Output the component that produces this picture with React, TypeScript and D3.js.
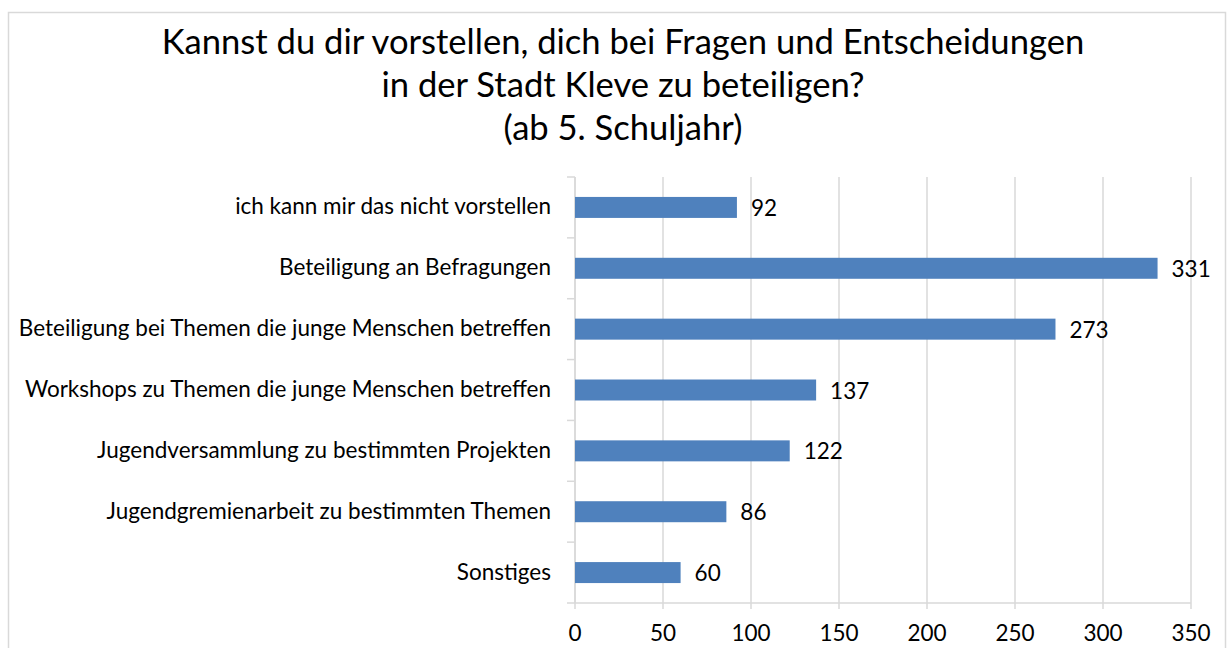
import React from "react";
import * as d3 from "d3";

const titleLines = [
  "Kannst du dir vorstellen, dich bei Fragen und Entscheidungen",
  "in der Stadt Kleve zu beteiligen?",
  "(ab 5. Schuljahr)",
];
const categories = [
  "ich kann mir das nicht vorstellen",
  "Beteiligung an Befragungen",
  "Beteiligung bei Themen die junge Menschen betreffen",
  "Workshops zu Themen die junge Menschen betreffen",
  "Jugendversammlung zu bestimmten Projekten",
  "Jugendgremienarbeit zu bestimmten Themen",
  "Sonstiges",
];
const values = [92, 331, 273, 137, 122, 86, 60];
const xTicks = [0, 50, 100, 150, 200, 250, 300, 350];

const W = 1228;
const H = 648;
const FONT = "Lato, 'Open Sans', sans-serif";

export default function App() {
  const left = 575;
  const right = 1191;
  const top = 177;
  const bottom = 603;
  const x = d3.scaleLinear().domain([0, 350]).range([left, right]);
  const y = d3.scaleBand<string>().domain(categories).range([top, bottom]).paddingInner(0).paddingOuter(0);
  const bw = y.bandwidth();
  const barH = bw / 2.9;
  const grid = "#d9d9d9";
  const boundaries = d3.range(categories.length + 1).map((i) => top + i * bw);
  const fs = 22.5;

  return (
    <svg width={W} height={H} style={{ position: "absolute", left: 0, top: 0, background: "#fff" }}>
      <rect x={0} y={0} width={W} height={H} fill="#fff" />
      <rect x={8.5} y={12.5} width={1217} height={H} fill="none" stroke={grid} strokeWidth={1.5} />
      {titleLines.map((t, i) => (
        <text key={i} x={623} y={54 + i * 43} textAnchor="middle" fontFamily={FONT} fontSize={34.6} fill="#000">
          {t}
        </text>
      ))}
      {xTicks.map((t) => (
        <line key={"g" + t} x1={x(t)} x2={x(t)} y1={top} y2={bottom} stroke={grid} strokeWidth={1.5} />
      ))}
      {xTicks.map((t) => (
        <line key={"tk" + t} x1={x(t)} x2={x(t)} y1={bottom} y2={bottom + 6} stroke={grid} strokeWidth={1.5} />
      ))}
      {boundaries.map((b, i) => (
        <line key={"yt" + i} x1={left - 8} x2={left} y1={b} y2={b} stroke={grid} strokeWidth={1.5} />
      ))}
      <line x1={left} x2={left} y1={top} y2={bottom} stroke={grid} strokeWidth={1.5} />
      <line x1={left} x2={right} y1={bottom} y2={bottom} stroke={grid} strokeWidth={1.5} />
      {categories.map((c, i) => {
        const cy = (y(c) as number) + bw / 2;
        return (
          <g key={c}>
            <rect x={x(0)} y={cy - barH / 2} width={x(values[i]) - x(0)} height={barH} fill="#4f81bd" />
            <text x={551} y={cy + 7} textAnchor="end" fontFamily={FONT} fontSize={fs} fill="#000">
              {c}
            </text>
            <text x={x(values[i]) + 14} y={cy + 8.5} textAnchor="start" fontFamily={FONT} fontSize={fs} fill="#000">
              {values[i]}
            </text>
          </g>
        );
      })}
      {xTicks.map((t) => (
        <text key={"xl" + t} x={x(t)} y={641} textAnchor="middle" fontFamily={FONT} fontSize={fs} fill="#000">
          {t}
        </text>
      ))}
    </svg>
  );
}
